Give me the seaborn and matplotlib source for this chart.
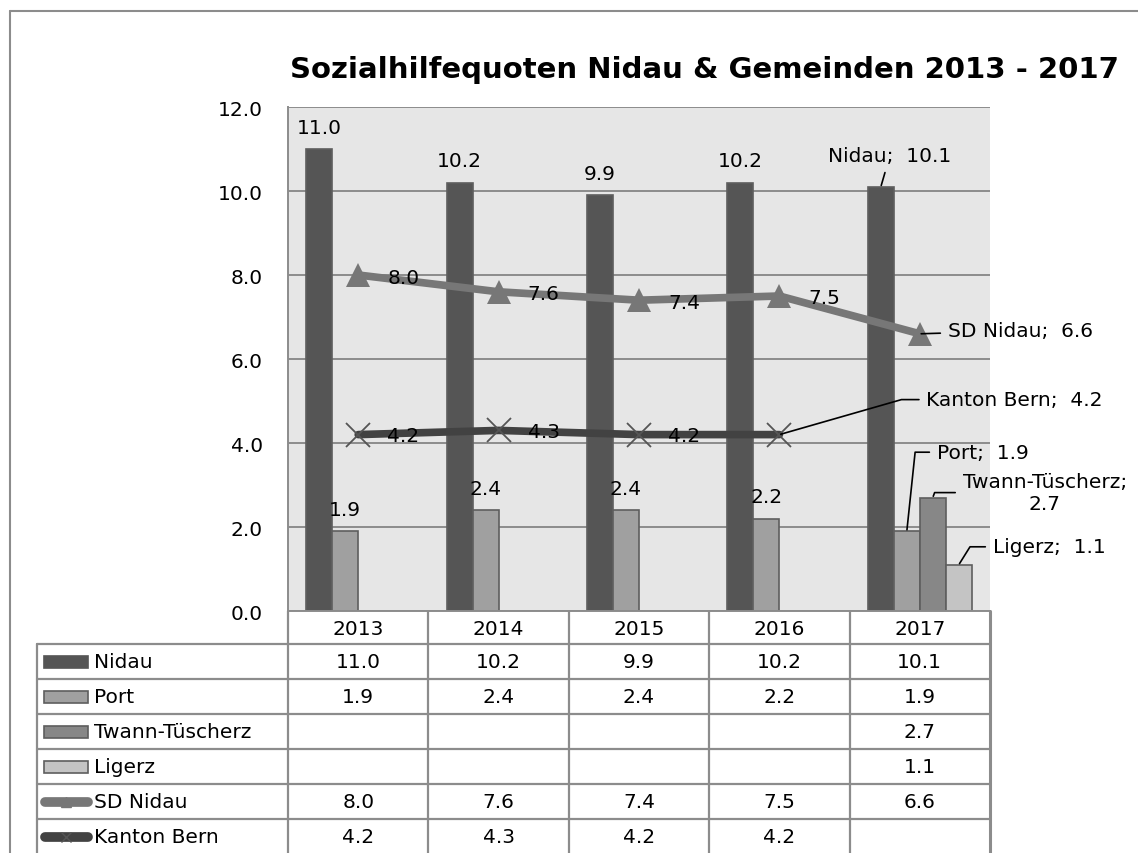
import numpy as np
import pandas as pd
import matplotlib.pyplot as plt
import seaborn as sns

years = ['2013', '2014', '2015', '2016', '2017']
nidau = [11.0, 10.2, 9.9, 10.2, 10.1]
port = [1.9, 2.4, 2.4, 2.2, 1.9]
twann = [np.nan, np.nan, np.nan, np.nan, 2.7]
ligerz = [np.nan, np.nan, np.nan, np.nan, 1.1]
sd_nidau = [8.0, 7.6, 7.4, 7.5, 6.6]
kanton_bern = [4.2, 4.3, 4.2, 4.2, np.nan]

bar_names = ['Nidau', 'Port', 'Twann-Tüscherz', 'Ligerz']
bar_values = [nidau, port, twann, ligerz]
bar_colors = ['#555555', '#a0a0a0', '#878787', '#c4c4c4']
line_names = ['SD Nidau', 'Kanton Bern']
line_values = [sd_nidau, kanton_bern]
line_colors = ['#777777', '#424242']
line_markers = ['^', 'x']

sns.set_style('white')
plt.rcParams['font.family'] = ['DejaVu Sans']
plt.rcParams['text.color'] = 'black'
plt.rcParams['ytick.labelcolor'] = 'black'

W, H = 1138, 854
GRAY = '#8c8c8c'
FS = 14.5

fig = plt.figure(figsize=(W / 100, H / 100), dpi=100)

# pixel layout of plot area
px_l, px_r, px_t, px_b = 288, 990, 108, 612
ax = fig.add_axes([px_l / W, 1 - px_b / H, (px_r - px_l) / W, (px_b - px_t) / H], zorder=2)

bars = pd.DataFrame({
    'Jahr': years * len(bar_names),
    'Reihe': np.repeat(bar_names, len(years)),
    'Wert': np.concatenate(bar_values),
}).dropna()

sns.barplot(data=bars, x='Jahr', y='Wert', hue='Reihe', order=years, hue_order=bar_names,
            palette=bar_colors, width=0.74, edgecolor='#5e5e5e', linewidth=1.2,
            saturation=1, errorbar=None, legend=False, ax=ax)

xpos = np.arange(len(years))
for name, vals, col, mk in zip(line_names, line_values, line_colors, line_markers):
    sns.lineplot(x=xpos, y=vals, color=col, linewidth=5.5, marker=mk, markersize=17,
                 markeredgewidth=1.3 if mk == 'x' else 0, markeredgecolor='#555555',
                 mfc=col, ax=ax, zorder=5)

ax.set_facecolor('#e6e6e6')
ax.set_xlim(-0.5, len(years) - 0.5)
ax.set_ylim(0, 12)
ax.set_yticks(np.arange(0, 13, 2))
ax.set_yticklabels([f'{v:.1f}' for v in np.arange(0, 13, 2)], fontsize=FS)
ax.set_xticks([])
ax.set_xlabel('')
ax.set_ylabel('')
ax.grid(axis='y', color=GRAY, linewidth=1.4)
ax.set_axisbelow(True)
for s in ['top', 'right']:
    ax.spines[s].set_visible(False)
for s in ['left', 'bottom']:
    ax.spines[s].set_color(GRAY)
    ax.spines[s].set_linewidth(1.4)
ax.tick_params(axis='y', length=7, width=1.4, color=GRAY, direction='out', pad=11)

# bar offsets within a category
slot = 0.74 / len(bar_names)
offs = [(i - (len(bar_names) - 1) / 2) * slot for i in range(len(bar_names))]

# plain value labels for all years but the last one
for j in range(len(years) - 1):
    for vals, off in zip(bar_values[:2], offs[:2]):
        ax.annotate(f'{vals[j]:.1f}', (j + off, vals[j]), xytext=(0, 22),
                    textcoords='offset pixels', ha='center', va='center', fontsize=FS)
    ax.annotate(f'{sd_nidau[j]:.1f}', (j, sd_nidau[j]), xytext=(45, -2),
                textcoords='offset pixels', ha='center', va='center', fontsize=FS, zorder=6)
    if j < len(years) - 2:
        ax.annotate(f'{kanton_bern[j]:.1f}', (j, kanton_bern[j]), xytext=(45, -1),
                    textcoords='offset pixels', ha='center', va='center', fontsize=FS, zorder=6)

last = len(years) - 1


def lead(text, xy, off, ha='left', angle=None):
    cs = 'arc3' if angle is None else f'angle,angleA=0,angleB={angle},rad=0'
    ax.annotate(text, xy, xytext=off, textcoords='offset pixels', ha=ha, va='center',
                fontsize=FS, multialignment='center', annotation_clip=False, zorder=7,
                arrowprops=dict(arrowstyle='-', color='black', lw=1.2, connectionstyle=cs,
                                shrinkA=3, shrinkB=1))


lead(f'Nidau;  {nidau[last]:.1f}', (last + offs[0], nidau[last]), (9, 31), ha='center')
lead(f'SD Nidau;  {sd_nidau[last]:.1f}', (last, sd_nidau[last]), (28, 3))
lead(f'Kanton Bern;  {kanton_bern[last - 1]:.1f}', (last - 1, kanton_bern[last - 1]), (147, 35), angle=16)
lead(f'Port;  {port[last]:.1f}', (last + offs[1], port[last]), (30, 79), angle=84)
lead(f'Twann-Tüscherz;\n{twann[last]:.1f}', (last + offs[2], twann[last]), (112, 5), ha='center', angle=70)
lead(f'Ligerz;  {ligerz[last]:.1f}', (last + offs[3], ligerz[last]), (34, 18), angle=58)

# overlay in pixel coords for frame, title and data table
ov = fig.add_axes([0, 0, 1, 1], zorder=1)
ov.set_xlim(0, W)
ov.set_ylim(H, 0)
ov.axis('off')

ov.plot([10, W], [12, 12], color=GRAY, lw=1.5)
ov.plot([10, 10], [12, H], color=GRAY, lw=1.5)

ov.text(290, 78, 'Sozialhilfequoten Nidau & Gemeinden 2013 - 2017', fontsize=21,
        fontweight='bold', ha='left', va='baseline')

col_w = (px_r - px_l) / len(years)
tab_l = 37
head_b = 645
row_h = 35
n_rows = len(bar_names) + len(line_names)

for i in range(len(years) + 1):
    x = px_l + i * col_w
    ov.plot([x, x], [px_b, H], color=GRAY, lw=2.2 if i == len(years) else 1.6)
ov.plot([tab_l, tab_l], [head_b, H], color=GRAY, lw=1.6)
for r in range(n_rows):
    y = head_b + r * row_h
    ov.plot([tab_l, px_r], [y, y], color=GRAY, lw=1.6)

for i, yr in enumerate(years):
    ov.text(px_l + (i + 0.5) * col_w, (px_b + head_b) / 2 + 1, yr, ha='center', va='center', fontsize=FS)

names = bar_names + line_names
values = bar_values + line_values
for r, (name, vals) in enumerate(zip(names, values)):
    yc = head_b + (r + 0.5) * row_h
    if r < len(bar_names):
        ec = bar_colors[r] if r == 0 else '#5e5e5e'
        ov.add_patch(plt.Rectangle((44, yc - 6), 44, 12, facecolor=bar_colors[r],
                                   edgecolor=ec, lw=1.2))
    else:
        k = r - len(bar_names)
        ov.plot([45, 88], [yc, yc], color=line_colors[k], lw=7, solid_capstyle='round')
        ov.plot([66.5], [yc], marker=line_markers[k], color='#555555' if k else line_colors[k],
                markersize=7, mew=1)
    ov.text(94, yc, name, ha='left', va='center', fontsize=FS)
    for i, v in enumerate(vals):
        if not np.isnan(v):
            ov.text(px_l + (i + 0.5) * col_w, yc, f'{v:.1f}', ha='center', va='center', fontsize=FS)

fig.savefig('out.png', dpi=100, facecolor='white')
